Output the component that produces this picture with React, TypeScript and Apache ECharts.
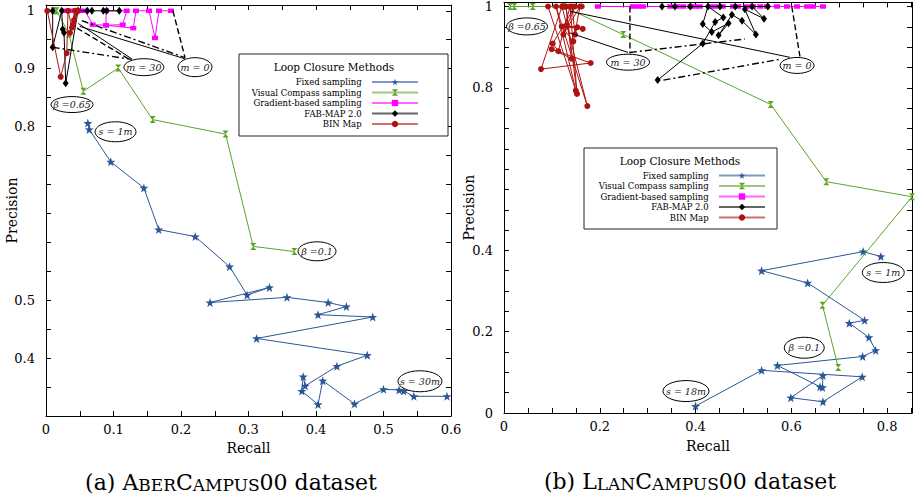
import { useEffect, useRef } from "react";
import * as echarts from "echarts";

const methodNames = [
  "Fixed sampling",
  "Visual Compass sampling",
  "Gradient-based sampling",
  "FAB-MAP 2.0",
  "BIN Map",
];
const methodColors = ["#2b5797", "#5aa428", "#ff00ff", "#000000", "#b01212"];

// ---------- (a) AberCampus00 : [recall, precision] ----------
const aberXTicks = [0, 0.1, 0.2, 0.3, 0.4, 0.5, 0.6];
const aberYTicks = [0.4, 0.5, 0.8, 0.9, 1];
const aberFixed = [
  [0.062, 0.806], [0.064, 0.795], [0.096, 0.739], [0.145, 0.694], [0.167, 0.622],
  [0.221, 0.61], [0.272, 0.558], [0.298, 0.509], [0.331, 0.522], [0.243, 0.496],
  [0.357, 0.505], [0.418, 0.496], [0.445, 0.489], [0.403, 0.475], [0.484, 0.471],
  [0.312, 0.434], [0.476, 0.405], [0.431, 0.386], [0.384, 0.352], [0.381, 0.368],
  [0.379, 0.343], [0.403, 0.32], [0.41, 0.361], [0.457, 0.321], [0.5, 0.346],
  [0.523, 0.345], [0.53, 0.343], [0.545, 0.334], [0.594, 0.334],
];
const aberCompass = [
  [0.0118, 1], [0.0158, 1], [0.034, 0.96], [0.0553, 0.861], [0.107, 0.901],
  [0.158, 0.812], [0.266, 0.787], [0.307, 0.593], [0.368, 0.584],
];
const aberGradient = [
  [0.0281, 1], [0.0356, 1], [0.043, 1], [0.0504, 1], [0.0578, 1], [0.0692, 0.976],
  [0.0889, 0.975], [0.1136, 0.976], [0.1196, 1], [0.0889, 1], [0.0889, 0.975],
  [0.1293, 0.97], [0.1333, 1], [0.1526, 1], [0.1615, 0.953], [0.1674, 1], [0.1852, 1],
];
const aberFabmap = [
  [0.0099, 1], [0.0099, 0.937], [0.0233, 1], [0.0247, 0.968], [0.0267, 0.962],
  [0.0292, 0.875], [0.0474, 1], [0.0612, 1], [0.068, 1], [0.0849, 1], [0.0899, 1], [0.1086, 1],
];
const aberBinmap = [
  [0.0019, 1], [0.0218, 0.886], [0.0307, 0.927], [0.0326, 1], [0.0385, 0.971],
  [0.043, 1], [0.0356, 0.962], [0.0474, 1], [0.0415, 0.984], [0.0444, 1],
  [0.04, 0.976], [0.0459, 1],
];
const aberGuideSolid = [
  [[0.048, 0.978], [0.127, 0.917]],
  [[0.05, 0.973], [0.206, 0.917]],
];
const aberGuideDashed = [
  [[0.046, 0.97], [0.125, 0.915]],
  [[0.188, 1.0], [0.206, 0.919]],
];
const aberGuideDashDot = [
  [[0.0099, 0.937], [0.127, 0.916]],
  [[0.053, 0.983], [0.206, 0.919]],
];
const aberNoteLabels = ["m = 30", "m = 0", "β =0.65", "s = 1m", "β =0.1", "s = 30m"];
const aberNotePoints = [
  [0.145, 0.9026], [0.2207, 0.9026], [0.0385, 0.838], [0.103, 0.791], [0.4015, 0.5845], [0.554, 0.36],
];

// ---------- (b) LlanCampus00 : [recall, precision] ----------
const llanXTicks = [0, 0.2, 0.4, 0.6, 0.8];
const llanYTicks = [0, 0.2, 0.4, 0.8, 1];
const llanFixed = [
  [0.787, 0.385], [0.75, 0.397], [0.538, 0.35], [0.634, 0.32], [0.753, 0.228],
  [0.721, 0.221], [0.762, 0.186], [0.776, 0.154], [0.749, 0.139], [0.571, 0.117],
  [0.66, 0.0645], [0.665, 0.063], [0.666, 0.0924], [0.599, 0.0375], [0.666, 0.0277],
  [0.748, 0.089], [0.538, 0.105], [0.4, 0.017],
];
const llanCompass = [
  [0.0125, 1], [0.0215, 1], [0.06, 1], [0.124, 1], [0.249, 0.931], [0.557, 0.759],
  [0.673, 0.569], [0.852, 0.532], [0.665, 0.265], [0.698, 0.112],
];
const llanGradient = [
  [0.196, 1], [0.269, 1], [0.28, 1], [0.29, 1], [0.347, 1], [0.361, 1], [0.374, 1],
  [0.389, 1], [0.399, 1], [0.409, 1], [0.43, 1], [0.441, 1], [0.457, 1], [0.478, 1],
  [0.489, 1], [0.507, 1], [0.52, 1], [0.535, 1], [0.549, 1], [0.57, 1], [0.591, 1],
  [0.612, 1], [0.633, 1], [0.645, 1], [0.666, 1],
];
const llanFabmap = [
  [0.321, 0.819], [0.415, 0.909], [0.441, 0.962], [0.458, 0.973], [0.426, 1],
  [0.415, 0.957], [0.434, 0.937], [0.469, 0.959], [0.448, 0.929], [0.476, 0.98],
  [0.497, 0.965], [0.526, 0.931], [0.503, 0.993], [0.543, 0.97], [0.518, 1],
  [0.483, 1], [0.451, 1], [0.389, 1], [0.357, 1], [0.33, 1], [0.551, 1],
];
const llanBinmap = [
  [0.0919, 1], [0.15, 0.793], [0.1086, 1], [0.174, 0.755], [0.1211, 1], [0.0773, 0.846],
  [0.181, 0.861], [0.0996, 0.895], [0.1414, 0.872], [0.1295, 1], [0.1525, 0.785],
  [0.1379, 1], [0.1134, 0.89], [0.1017, 0.909], [0.1483, 1], [0.1239, 0.931],
  [0.1587, 1], [0.1448, 0.914], [0.1205, 0.951], [0.1644, 0.945], [0.131, 0.953],
  [0.1531, 0.949], [0.1483, 0.931], [0.142, 1], [0.1623, 1],
];
const llanGuideSolid = [
  [[0.138, 0.935], [0.259, 0.887]],
  [[0.138, 0.988], [0.597, 0.875]],
];
const llanGuideDashed = [
  [[0.263, 1.0], [0.263, 0.885]],
  [[0.601, 1.0], [0.618, 0.877]],
];
const llanGuideDashDot = [
  [[0.263, 0.887], [0.503, 0.92]],
  [[0.333, 0.819], [0.576, 0.87]],
];
const llanNoteLabels = ["β =0.65", "m = 30", "m = 0", "s = 1m", "β =0.1", "s = 18m"];
const llanNotePoints = [
  [0.048, 0.951], [0.259, 0.863], [0.612, 0.855], [0.792, 0.3456], [0.627, 0.1605], [0.38, 0.054],
];

// ---------- styles ----------
const SERIF = '"DejaVu Serif", serif';
const aberNoteRadii = [[20, 8.5], [17, 9.5], [21, 8], [20.5, 10], [19, 9.5], [22, 10.5]];
const llanNoteRadii = [[20.5, 8.5], [21.5, 8], [17, 8], [21, 10], [20, 10.5], [23, 10.5]];
const starPath =
  "path://M0,-10L2.35,-3.24L9.51,-3.09L3.8,1.24L5.88,8.09L0,4L-5.88,8.09L-3.8,1.24L-9.51,-3.09L-2.35,-3.24Z";
const hourglassPath = "path://M-5,-6L5,-6L-5,6L5,6Z";
const methodSymbols: any[] = [starPath, hourglassPath, "rect", "diamond", "circle"];
const methodSymbolSizes: any[] = [9, [6, 7], [6, 4.5], [6, 8], 6];

const tickFormatter = (labels: number[]) => (v: number) => {
  const hit = labels.find((l) => Math.abs(l - v) < 1e-6);
  return hit === undefined ? "" : String(hit);
};

function makeXAxes(grid: number, max: number, labels: number[], nameGap: number, margin: number) {
  const common = {
    type: "value",
    gridIndex: grid,
    min: 0,
    max,
    interval: 0.05,
    splitLine: { show: false },
    axisLine: { show: true, onZero: false, lineStyle: { color: "#000", width: 1 } },
    axisTick: { show: true, inside: true, length: 5, lineStyle: { color: "#000", width: 1 } },
  };
  return [
    {
      ...common,
      position: "bottom",
      axisLabel: {
        formatter: tickFormatter(labels),
        margin,
        color: "#000",
        fontFamily: SERIF,
        fontSize: 13,
        showMaxLabel: true,
        showMinLabel: true,
      },
      name: "Recall",
      nameLocation: "middle",
      nameGap,
      nameTextStyle: { fontFamily: SERIF, fontSize: 14, color: "#000" },
    },
    { ...common, position: "top", axisLabel: { show: false } },
  ];
}

function makeYAxes(grid: number, min: number, max: number, labels: number[], nameGap: number) {
  const common = {
    type: "value",
    gridIndex: grid,
    min,
    max,
    interval: 0.05,
    splitLine: { show: false },
    axisLine: { show: true, onZero: false, lineStyle: { color: "#000", width: 1 } },
    axisTick: { show: true, inside: true, length: 5, lineStyle: { color: "#000", width: 1 } },
  };
  return [
    {
      ...common,
      position: "left",
      axisLabel: {
        formatter: tickFormatter(labels),
        margin: 11,
        color: "#000",
        fontFamily: SERIF,
        fontSize: 13,
        showMaxLabel: true,
        showMinLabel: true,
      },
      name: "Precision",
      nameLocation: "middle",
      nameGap,
      nameMoveOverlap: false,
      nameTextStyle: { fontFamily: SERIF, fontSize: 14, color: "#000" },
    },
    { ...common, position: "right", axisLabel: { show: false } },
  ];
}

function methodSeries(datasets: number[][][], axisIndex: number) {
  return datasets.map((data, i) => ({
    name: methodNames[i],
    type: "line",
    xAxisIndex: axisIndex,
    yAxisIndex: axisIndex,
    data,
    symbol: methodSymbols[i],
    symbolSize: methodSymbolSizes[i],
    showSymbol: true,
    lineStyle: { color: methodColors[i], width: 1 },
    itemStyle: { color: methodColors[i], borderWidth: 0 },
    z: 3 + i * 0.01,
    silent: true,
  }));
}

function guideSeries(segments: number[][][], axisIndex: number, type: any, width: number) {
  return segments.map((seg) => ({
    type: "line",
    xAxisIndex: axisIndex,
    yAxisIndex: axisIndex,
    data: seg,
    symbol: "none",
    lineStyle: { color: "#000", width, type },
    z: 4,
    silent: true,
  }));
}

function noteSeries(labels: string[], points: number[][], radii: number[][], axisIndex: number) {
  return {
    type: "custom",
    xAxisIndex: axisIndex,
    yAxisIndex: axisIndex,
    data: points,
    z: 5,
    silent: true,
    clip: false,
    renderItem: (params: any, api: any) => {
      const c = api.coord([api.value(0), api.value(1)]);
      const [rx, ry] = radii[params.dataIndex];
      return {
        type: "group",
        children: [
          {
            type: "ellipse",
            shape: { cx: c[0], cy: c[1], rx, ry },
            style: { fill: "#fff", stroke: "#000", lineWidth: 1 },
          },
          {
            type: "text",
            x: c[0],
            y: c[1],
            style: {
              text: labels[params.dataIndex],
              fill: "#222",
              fontFamily: SERIF,
              fontStyle: "italic",
              fontSize: 9.5,
              align: "center",
              verticalAlign: "middle",
            },
          },
        ],
      };
    },
  };
}

function legendFor(right: number, top: number) {
  return {
    data: methodNames,
    orient: "vertical",
    align: "right",
    right,
    top,
    padding: 0,
    itemWidth: 46,
    itemHeight: 8,
    itemGap: 0.5,
    selectedMode: false,
    z: 20,
    formatter: (n: string) => n + "  ",
    lineStyle: { width: 2, opacity: 0.6 },
    textStyle: { fontFamily: SERIF, fontSize: 8.5, color: "#000", lineHeight: 10 },
  };
}

function legendFrame(x: number, y: number, w: number, h: number, cx: number, cy: number) {
  return [
    {
      type: "rect",
      z: 15,
      shape: { x, y, width: w, height: h },
      style: { fill: "#fff", stroke: "#222", lineWidth: 1 },
    },
    {
      type: "text",
      z: 16,
      x: cx,
      y: cy,
      style: {
        text: "Loop Closure Methods",
        fill: "#000",
        fontFamily: SERIF,
        fontSize: 10.5,
        align: "center",
        verticalAlign: "middle",
      },
    },
  ];
}

function caption(text: string, cx: number, cy: number) {
  return {
    type: "text",
    x: cx,
    y: cy,
    style: {
      text,
      fill: "#000",
      fontFamily: SERIF,
      fontSize: 22,
      align: "center",
      verticalAlign: "middle",
      rich: {
        n: { fontFamily: SERIF, fontSize: 22, verticalAlign: "bottom", lineHeight: 26 },
        b: { fontFamily: SERIF, fontSize: 22, verticalAlign: "bottom", lineHeight: 26 },
        s: { fontFamily: SERIF, fontSize: 17, verticalAlign: "bottom", lineHeight: 26 },
      },
    },
  };
}

export default function App() {
  const ref = useRef<HTMLDivElement>(null);
  useEffect(() => {
    if (!ref.current) return;
    const chart = echarts.init(ref.current, undefined, { renderer: "svg" });
    const option: any = {
      animation: false,
      backgroundColor: "#fff",
      grid: [
        { left: 46, top: 5, width: 405, height: 411, show: false },
        { left: 504, top: 1, width: 408, height: 412, show: false },
      ],
      xAxis: [...makeXAxes(0, 0.6, aberXTicks, 24, 7), ...makeXAxes(1, 0.852, llanXTicks, 26, 7)],
      yAxis: [...makeYAxes(0, 0.3, 1.01, aberYTicks, 27), ...makeYAxes(1, 0, 1.01, llanYTicks, 28)],
      legend: [legendFor(499, 77), legendFor(152, 170.5)],
      series: [
        ...methodSeries([aberFixed, aberCompass, aberGradient, aberFabmap, aberBinmap], 0),
        ...methodSeries([llanFixed, llanCompass, llanGradient, llanFabmap, llanBinmap], 2),
        ...guideSeries(aberGuideSolid, 0, "solid", 1),
        ...guideSeries(aberGuideDashed, 0, [6, 3], 1.4),
        ...guideSeries(aberGuideDashDot, 0, [7, 3, 2, 3], 1.4),
        ...guideSeries(llanGuideSolid, 2, "solid", 1),
        ...guideSeries(llanGuideDashed, 2, [6, 3], 1.4),
        ...guideSeries(llanGuideDashDot, 2, [7, 3, 2, 3], 1.4),
        noteSeries(aberNoteLabels, aberNotePoints, aberNoteRadii, 0),
        noteSeries(llanNoteLabels, llanNotePoints, llanNoteRadii, 2),
      ],
      graphic: [
        ...legendFrame(239, 54, 209, 82, 334, 67),
        ...legendFrame(584, 148, 193, 81, 680, 161),
        caption("{n|(a) }{b|A}{s|BER}{b|C}{s|AMPUS}{n|00 dataset}", 231, 480),
        caption("{n|(b) }{b|L}{s|LAN}{b|C}{s|AMPUS}{n|00 dataset}", 690, 479),
      ],
    };
    chart.setOption(option);
    return () => chart.dispose();
  }, []);
  return (
    <div
      ref={ref}
      style={{ position: "fixed", left: 0, top: 0, width: 918, height: 498, background: "#fff" }}
    />
  );
}
